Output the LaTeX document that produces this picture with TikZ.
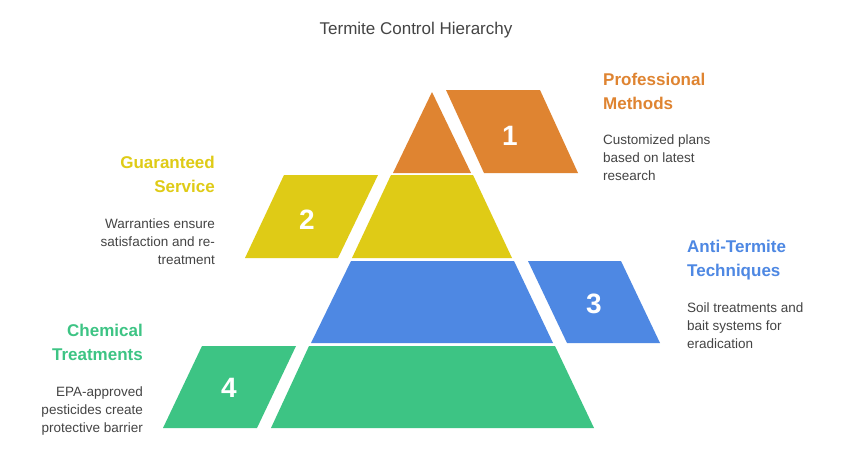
\documentclass[tikz,border=0pt]{standalone}
\usepackage{fontspec}
\setmainfont{Liberation Sans}
\definecolor{c1}{HTML}{DF8431}
\definecolor{c2}{HTML}{DFCB16}
\definecolor{c3}{HTML}{4E88E3}
\definecolor{c4}{HTML}{3DC484}
\definecolor{txt}{HTML}{444444}
\begin{document}
\begin{tikzpicture}[x=1pt,y=-1pt,
  num/.style={text=white,font=\fontsize{28}{30}\selectfont\bfseries},
  head/.style={font=\fontsize{17}{24}\selectfont\bfseries,align=#1,inner sep=0pt},
  desc/.style={font=\fontsize{13.5}{18}\selectfont,text=txt,align=#1,inner sep=0pt}]
\useasboundingbox[fill=white] (0,0) rectangle (848,453);
\node[font=\fontsize{17}{20}\selectfont,text=txt] (title) at (416,30) {Termite Control Hierarchy};
% pyramid
\fill[c1] (432,92) -- (471,173) -- (393,173) -- cycle;
\fill[c2] (391,175) -- (473,175) -- (512,258) -- (352,258) -- cycle;
\fill[c3] (351,261) -- (514,261) -- (553,343) -- (311,343) -- cycle;
\fill[c4] (309,346) -- (555,346) -- (594,428) -- (271,428) -- cycle;
% side tabs
\fill[c1] (446,90) -- (540,90) -- (578,173) -- (484,173) -- cycle;
\fill[c2] (284,175) -- (378,175) -- (338,258) -- (245,258) -- cycle;
\fill[c3] (528,261) -- (621,261) -- (660,343) -- (567,343) -- cycle;
\fill[c4] (202,346) -- (296,346) -- (257,428) -- (163,428) -- cycle;
\node[num] (n1) at (510,136) {1};
\node[num] (n2) at (307,220) {2};
\node[num] (n3) at (594,304) {3};
\node[num] (n4) at (229,388) {4};
% texts
\node[head=left,text=c1,anchor=north west] (h1) at (603,73) {Professional\\Methods};
\node[desc=left,anchor=north west] (d1) at (603,135) {Customized plans\\based on latest\\research};
\node[head=right,text=c2,anchor=north east] (h2) at (215,156) {Guaranteed\\Service};
\node[desc=right,anchor=north east] (d2) at (215,219) {Warranties ensure\\satisfaction and re-\\treatment};
\node[head=left,text=c3,anchor=north west] (h3) at (687,240) {Anti-Termite\\Techniques};
\node[desc=left,anchor=north west] (d3) at (687,303) {Soil treatments and\\bait systems for\\eradication};
\node[head=right,text=c4,anchor=north east] (h4) at (143,324) {Chemical\\Treatments};
\node[desc=right,anchor=north east] (d4) at (143,387) {EPA-approved\\pesticides create\\protective barrier};
\end{tikzpicture}
\end{document}
